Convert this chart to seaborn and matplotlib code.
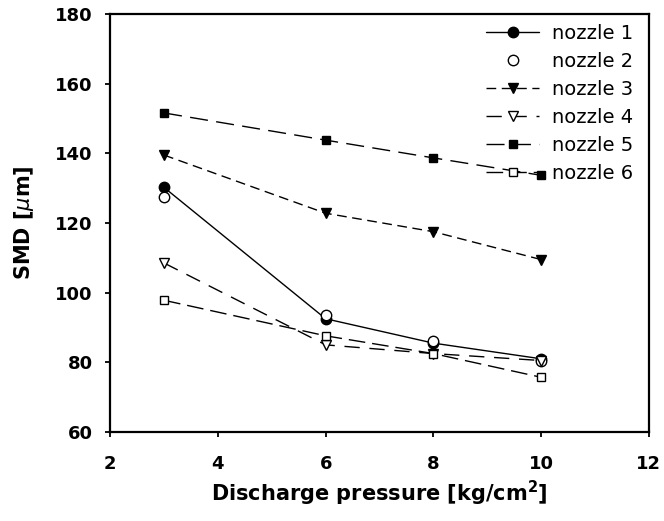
import pandas as pd
import seaborn as sns
import matplotlib.pyplot as plt

# Discharge pressure [kg/cm^2]
pressure = [3, 6, 8, 10]

# SMD [um]
nozzle_1 = [130.2, 92.5, 85.5, 81.0]
nozzle_2 = [127.5, 93.5, 86.0, 80.5]
nozzle_3 = [139.5, 122.8, 117.5, 109.5]
nozzle_4 = [108.5, 85.0, 82.5, 80.5]
nozzle_5 = [151.6, 143.8, 138.7, 133.7]
nozzle_6 = [97.8, 87.6, 82.5, 75.7]

labels = ['nozzle 1', 'nozzle 2', 'nozzle 3', 'nozzle 4', 'nozzle 5', 'nozzle 6']

sns.set_theme(style='ticks')
plt.rcParams['font.family'] = ['DejaVu Sans']
plt.rcParams['text.color'] = 'black'
plt.rcParams['axes.labelcolor'] = 'black'

fig, ax = plt.subplots(figsize=(6.64, 5.21), dpi=100)
fig.subplots_adjust(left=0.166, right=0.977, top=0.973, bottom=0.171)

# style per series: (data, linestyle, marker, filled, marker size)
series = [
    (nozzle_1, '-', 'o', True, 7.5),
    (nozzle_2, 'none', 'o', False, 7.5),
    (nozzle_3, (0, (7, 4)), 'v', True, 7.5),
    (nozzle_4, (0, (11, 7)), 'v', False, 7.5),
    (nozzle_5, (0, (13, 6)), 's', True, 6),
    (nozzle_6, (0, (12, 5)), 's', False, 6),
]

for lab, (vals, ls, mk, filled, ms) in zip(labels, series):
    df = pd.DataFrame({'p': pressure, 'smd': vals})
    sns.lineplot(data=df, x='p', y='smd', ax=ax, color='black', linewidth=1.0,
                 linestyle=ls, marker=mk, markersize=ms,
                 markerfacecolor='black' if filled else 'white',
                 markeredgecolor='black', markeredgewidth=1.0, label=lab)

ax.set_xlim(2, 12)
ax.set_ylim(60, 180)
ax.set_xticks([2, 4, 6, 8, 10, 12])
ax.set_yticks([60, 80, 100, 120, 140, 160, 180])

for s in ax.spines.values():
    s.set_visible(True)
    s.set_linewidth(1.6)
    s.set_color('black')

ax.tick_params(direction='out', length=3.6, width=1.3, colors='black',
               labelsize=13)
ax.tick_params(axis='x', pad=13)
ax.tick_params(axis='y', pad=9)
for t in ax.get_xticklabels() + ax.get_yticklabels():
    t.set_fontweight('bold')

ax.set_xlabel('Discharge pressure [kg/cm$^\\mathbf{2}$]', fontsize=15,
              fontweight='bold', labelpad=4)
ax.set_ylabel('SMD [$\\mu$m]', fontsize=15, fontweight='bold', labelpad=14)

ax.legend(loc='upper right', bbox_to_anchor=(0.99, 1.0), frameon=False,
          fontsize=14, handlelength=2.7, handletextpad=0.7, labelspacing=0.46,
          borderaxespad=0.1)

plt.savefig('out.png', dpi=100)
